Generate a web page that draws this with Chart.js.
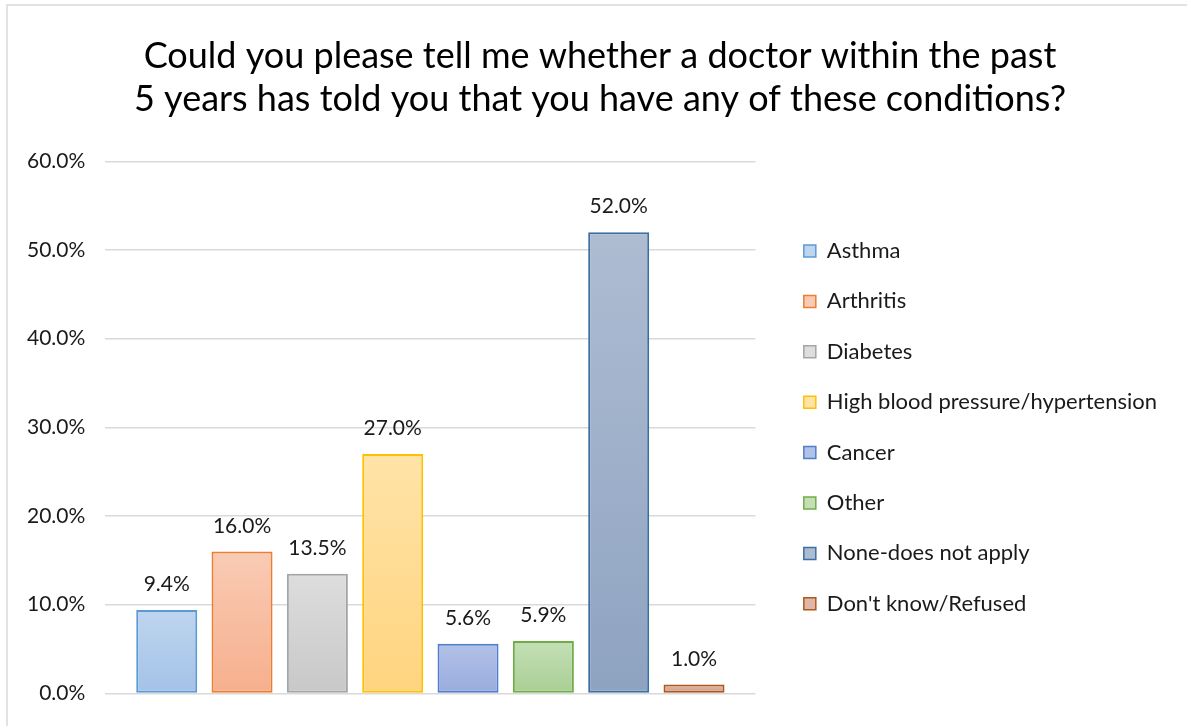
<!DOCTYPE html>
<html lang="en">
<head>
    <meta charset="UTF-8">
    <title>Doctor diagnosed conditions</title>
    <script src="https://cdn.jsdelivr.net/npm/chart.js"></script>
    <style>
        body { margin: 0; background: #fff; }
        #wrap { width: 1187px; height: 726px; }
    </style>
</head>
<body>
    <div id="wrap"><canvas id="conditionsChart" width="1187" height="726"></canvas></div>

    <script>
        const conditions = ['Asthma', 'Arthritis', 'Diabetes', 'High blood pressure/hypertension',
            'Cancer', 'Other', 'None-does not apply', "Don't know/Refused"];
        const shares = [9.4, 16.0, 13.5, 27.0, 5.6, 5.9, 52.0, 1.0];

        // [top, bottom, border]
        const palette = [
            ['#bed5ef', '#a3c2e8', '#5b9bd5'],
            ['#f9cbb4', '#f6af8d', '#ed7d31'],
            ['#dddddd', '#c8c8c8', '#a5a5a5'],
            ['#ffe3a7', '#ffd47f', '#ffc000'],
            ['#b2c1e7', '#98acdd', '#4f7fcc'],
            ['#c4dfb6', '#a9cf94', '#70ad47'],
            ['#aebcd2', '#8ea3c1', '#3b6fa3'],
            ['#dfb6a7', '#d09c8a', '#ac5a1c']
        ];

        const font = 'Lato, "Open Sans", sans-serif';

        function barGradient(i) {
            return function (c) {
                const chart = c.chart;
                const y = chart.scales.y;
                if (!chart.chartArea || !y) return palette[i][1];
                const top = y.getPixelForValue(shares[i]);
                const bottom = y.getPixelForValue(0);
                const g = chart.ctx.createLinearGradient(0, top, 0, bottom);
                g.addColorStop(0, palette[i][0]);
                g.addColorStop(1, palette[i][1]);
                return g;
            };
        }

        const frame = {
            id: 'frame',
            afterLayout(chart) {
                // title is centred on the whole frame, not on the padded box
                if (chart.titleBlock) chart.titleBlock.left += 26;
            },
            beforeDraw(chart) {
                const ctx = chart.ctx;
                ctx.save();
                ctx.strokeStyle = '#d9d9d9';
                ctx.lineWidth = 1.5;
                ctx.strokeRect(7, 5, 1300, 900);
                ctx.restore();
            }
        };

        const valueLabels = {
            id: 'valueLabels',
            afterDatasetsDraw(chart) {
                const ctx = chart.ctx;
                ctx.save();
                ctx.font = '21px ' + font;
                ctx.fillStyle = '#1a1a1a';
                ctx.textAlign = 'center';
                ctx.textBaseline = 'alphabetic';
                chart.data.datasets.forEach((ds, i) => {
                    const bar = chart.getDatasetMeta(i).data[0];
                    ctx.fillText(ds.data[0].toFixed(1) + '%', bar.x, bar.y - 19);
                });
                ctx.restore();
            }
        };

        const ctx = document.getElementById('conditionsChart').getContext('2d');
        new Chart(ctx, {
            type: 'bar',
            data: {
                labels: [''],
                datasets: conditions.map((name, i) => ({
                    label: name,
                    data: [shares[i]],
                    backgroundColor: barGradient(i),
                    borderColor: palette[i][2],
                    borderWidth: 2,
                    borderSkipped: false,
                    barPercentage: 0.81,
                    categoryPercentage: 0.927
                }))
            },
            options: {
                responsive: false,
                animation: false,
                layout: { padding: { left: 7, right: 20, bottom: 23, top: 0 } },
                plugins: {
                    title: {
                        display: true,
                        text: ['Could you please tell me whether a doctor within the past',
                               '5 years has told you that you have any of these conditions?'],
                        color: '#000',
                        font: { family: font, size: 36, weight: 'normal', lineHeight: 1.2 },
                        padding: { top: 35, bottom: 40 }
                    },
                    legend: {
                        position: 'right',
                        fullSize: false,
                        maxWidth: 460,
                        labels: {
                            color: '#1a1a1a',
                            font: { family: font, size: 22 },
                            boxWidth: 12,
                            boxHeight: 12,
                            padding: 28.4,
                            generateLabels(chart) {
                                return chart.data.datasets.map((ds, i) => ({
                                    text: ds.label,
                                    fillStyle: palette[i][0],
                                    strokeStyle: palette[i][2],
                                    lineWidth: 1.5,
                                    fontColor: '#1a1a1a',
                                    datasetIndex: i
                                }));
                            }
                        }
                    },
                    tooltip: { enabled: false }
                },
                scales: {
                    x: { display: false },
                    y: {
                        min: 0,
                        max: 60,
                        ticks: {
                            stepSize: 10,
                            padding: 20,
                            color: '#1a1a1a',
                            font: { family: font, size: 21 },
                            callback: v => v.toFixed(1) + '%'
                        },
                        grid: { color: '#d9d9d9', lineWidth: 1.5, drawTicks: false },
                        border: { display: false }
                    },
                    // empty right-hand axis, keeps a gap between plot and legend
                    gap: {
                        type: 'linear',
                        position: 'right',
                        ticks: { display: false },
                        grid: { display: false },
                        border: { display: false },
                        afterFit(scale) { scale.width = 20; }
                    }
                }
            },
            plugins: [frame, valueLabels]
        });
    </script>
</body>
</html>
